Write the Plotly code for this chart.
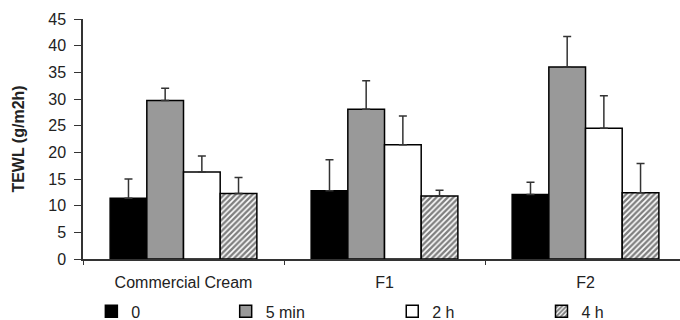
import plotly.graph_objects as go

categories = ["Commercial Cream", "F1", "F2"]
series_names = ["0", "5 min", "2 h", "4 h"]

# mean TEWL per time point (g/m2h)
tewl_0 = [11.4, 12.8, 12.1]
tewl_5min = [29.7, 28.1, 36.0]
tewl_2h = [16.3, 21.4, 24.5]
tewl_4h = [12.3, 11.8, 12.4]

# upper error (SD)
err_0 = [3.6, 5.8, 2.3]
err_5min = [2.3, 5.3, 5.7]
err_2h = [3.0, 5.4, 6.1]
err_4h = [3.0, 1.1, 5.5]

y_ticks = [0, 5, 10, 15, 20, 25, 30, 35, 40, 45]

values = [tewl_0, tewl_5min, tewl_2h, tewl_4h]
errors = [err_0, err_5min, err_2h, err_4h]
fills = ["#000000", "#999999", "#ffffff", "#ffffff"]
patterns = [None, None, None, dict(shape="/", fgcolor="#000000", bgcolor="#ffffff", size=4, solidity=0.6)]
legend_ids = ["legend", "legend2", "legend3", "legend4"]
# left edges of the four legend boxes, as fractions of the plot width
legend_x = [0.014, 0.239, 0.518, 0.768]

FONT = "Liberation Sans, Arial, sans-serif"
TXT = "#222222"

fig = go.Figure()
for name, vals, errs, fill, pat, lid in zip(series_names, values, errors, fills, patterns, legend_ids):
    marker = dict(color=fill, line=dict(color="#000000", width=1.5))
    if pat:
        marker["pattern"] = pat
    fig.add_trace(go.Bar(
        x=categories, y=vals, name=name, marker=marker, legend=lid, showlegend=True,
        error_y=dict(type="data", symmetric=False, array=errs,
                     arrayminus=[0] * len(errs), color="#333333",
                     thickness=1.5, width=4),
    ))

layout_legends = {}
for lid, lx in zip(legend_ids, legend_x):
    layout_legends[lid] = dict(
        x=lx, y=0.027, xref="paper", yref="container", xanchor="left", yanchor="middle",
        orientation="h", bgcolor="rgba(0,0,0,0)", borderwidth=0,
        font=dict(family=FONT, size=16, color=TXT),
        itemwidth=30,
    )

fig.update_layout(
    width=680, height=320,
    margin=dict(l=83, r=0, t=19, b=61, autoexpand=False),
    paper_bgcolor="#ffffff", plot_bgcolor="#ffffff",
    barmode="group", bargap=0.27, bargroupgap=0,
    showlegend=True,
    font=dict(family=FONT, size=16, color=TXT),
    **layout_legends,
)

fig.update_xaxes(
    range=[-0.5, 2.47], showline=True, linecolor="#333333", linewidth=1.5,
    ticks="outside", tickson="boundaries", ticklen=4, tickcolor="#333333",
    ticklabelstandoff=8, automargin=False,
    showgrid=False, tickfont=dict(family=FONT, size=16, color=TXT),
)
fig.update_yaxes(
    range=[0, 45], tickvals=y_ticks, showline=True, linecolor="#333333", linewidth=1.5,
    ticks="outside", ticklen=7, tickcolor="#333333", showgrid=False, zeroline=False,
    ticklabelstandoff=5, automargin=False,
    tickfont=dict(family=FONT, size=16, color=TXT),
    title=dict(text="<b>TEWL (g/m2h)</b>", standoff=20,
               font=dict(family=FONT, size=16, color=TXT)),
)

fig.write_html("out.html")
